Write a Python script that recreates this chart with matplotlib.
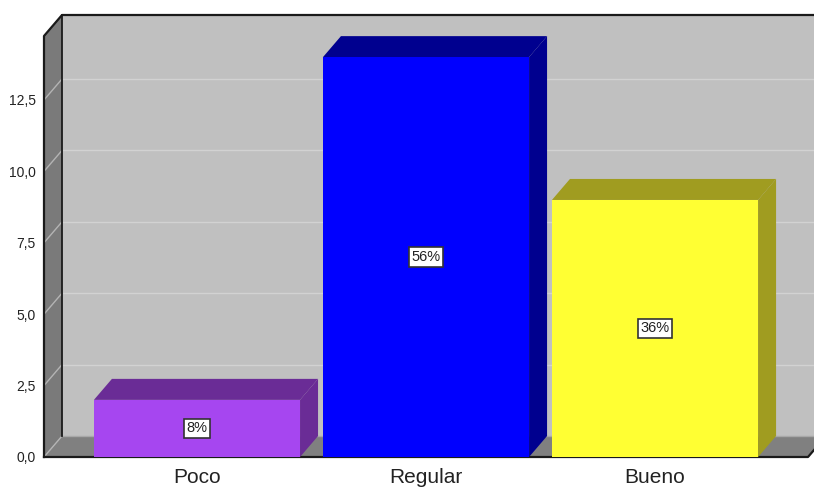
import matplotlib
matplotlib.use("Agg")
import matplotlib.pyplot as plt
from matplotlib.patches import Polygon, Rectangle

# datos
categorias = ["Poco", "Regular", "Bueno"]
frecuencias = [2, 14, 9]
porcentajes = ["8%", "56%", "36%"]
ticks_y = [0.0, 2.5, 5.0, 7.5, 10.0, 12.5]

colores_frente = ["#a646f0", "#0000ff", "#ffff33"]
colores_lado = ["#6a2c96", "#00008f", "#a09c20"]

W, H, DPI = 814, 488, 100
fig = plt.figure(figsize=(W / DPI, H / DPI), dpi=DPI, facecolor="white")

# plano frontal en pixeles
px_izq, px_der, px_abajo, px_arriba = 44, 808, 457, 36
ax = fig.add_axes([px_izq / W, (H - px_abajo) / H,
                   (px_der - px_izq) / W, (px_abajo - px_arriba) / H])
ymax = 14.74
xmin, xmax = -0.668, 2.668
ax.set_xlim(xmin, xmax)
ax.set_ylim(0, ymax)
ax.patch.set_visible(False)
for s in ax.spines.values():
    s.set_visible(False)

# profundidad (18 px a la derecha, 21 px hacia arriba) en unidades de datos
dx = 18 / ((px_der - px_izq) / (xmax - xmin))
dy = 21 / ((px_abajo - px_arriba) / ymax)

def poly(pts, fc, ec="none", lw=0, z=1):
    p = Polygon(pts, closed=True, facecolor=fc, edgecolor=ec, linewidth=lw,
                zorder=z, clip_on=False)
    ax.add_patch(p)

xr = xmax + 0.2
# pared del fondo
poly([(xmin + dx, dy), (xr, dy), (xr, ymax + dy), (xmin + dx, ymax + dy)], "#c0c0c0", z=0)
# pared izquierda
poly([(xmin, 0), (xmin + dx, dy), (xmin + dx, ymax + dy), (xmin, ymax)], "#7a7a7a", z=1)
# piso
poly([(xmin, 0), (xmax, 0), (xmax + dx, dy), (xmin + dx, dy)], "#808080", z=1)

# lineas de cuadricula
for t in ticks_y[1:]:
    ax.plot([xmin + dx, xr], [t + dy, t + dy], color="#d2d2d2", lw=1, zorder=0.5, clip_on=False)
    ax.plot([xmin, xmin + dx], [t, t + dy], color="#b4b4b4", lw=1, zorder=1.5, clip_on=False)
ax.plot([xmin, xmin + dx], [0, dy], color="#b4b4b4", lw=1, zorder=1.5, clip_on=False)
ax.plot([xmin + dx, xr], [dy, dy], color="#a8a8a8", lw=1, zorder=1.5, clip_on=False)

# bordes del marco
ax.plot([xmin, xmin, xmin + dx, xr], [0, ymax, ymax + dy, ymax + dy],
        color="#1a1a1a", lw=1.6, zorder=2, clip_on=False)
ax.plot([xmin + dx, xmin + dx], [dy, ymax + dy], color="#1a1a1a", lw=1.3, zorder=2, clip_on=False)
ax.plot([xmin, xmax, xmax + dx], [0, 0, dy], color="#1a1a1a", lw=1.6, zorder=2, clip_on=False)

# barras
ancho = 0.9
for i, (v, cf, cl, pc) in enumerate(zip(frecuencias, colores_frente, colores_lado, porcentajes)):
    x0, x1 = i - ancho / 2, i + ancho / 2
    poly([(x0, v), (x1, v), (x1 + dx, v + dy), (x0 + dx, v + dy)], cl, z=3)
    poly([(x1, 0), (x1 + dx, dy), (x1 + dx, v + dy), (x1, v)], cl, z=3)
    ax.add_patch(Rectangle((x0, 0), ancho, v, facecolor=cf, edgecolor="none",
                           zorder=4, clip_on=False))
    ax.text(i, v / 2, pc, ha="center", va="center", fontsize=10.5,
            family="Liberation Sans", color="#222222", zorder=5,
            bbox=dict(boxstyle="square,pad=0.18", facecolor="white",
                      edgecolor="#333333", linewidth=1.2))

ax.set_yticks(ticks_y)
ax.set_yticklabels([f"{t:.1f}".replace(".", ",") for t in ticks_y],
                   fontsize=10, family="Liberation Sans", color="#222222")
ax.set_xticks(range(len(categorias)))
ax.set_xticklabels(categorias, fontsize=15, family="Liberation Sans", color="#222222")
ax.tick_params(axis="y", length=0, pad=6)
ax.tick_params(axis="x", length=0, pad=8)

fig.savefig("out.png", dpi=DPI, facecolor="white")
